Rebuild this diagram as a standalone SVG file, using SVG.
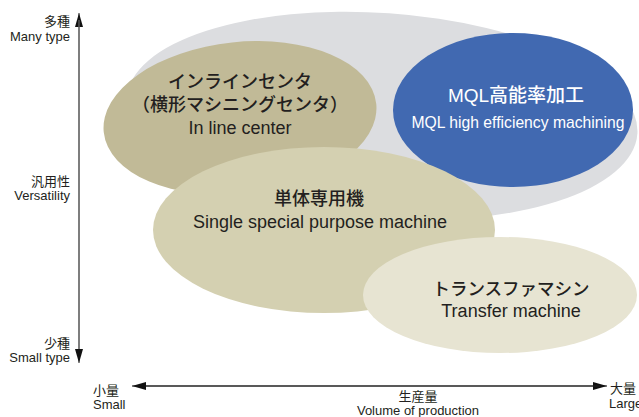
<svg xmlns="http://www.w3.org/2000/svg" width="639" height="417" viewBox="0 0 639 417">
  <defs>
    <style>
      .jp { font-family: "Liberation Sans", "Noto Sans CJK JP", sans-serif; fill: #231f20; }
      .en { font-family: "Liberation Sans", "Noto Sans CJK JP", sans-serif; fill: #231f20; }
      .b { font-weight: 500; }
      .w { fill: #ffffff; }
      .mid { text-anchor: middle; }
      .end { text-anchor: end; }
      .ax { font-size: 13px; }
      .node { font-size: 18px; }
      .vline { stroke: #666666; stroke-width: 1.2; fill: none; }
      .hline { stroke: #222222; stroke-width: 1.2; fill: none; }
    </style>
    <marker id="ah" viewBox="0 0 14 8" refX="14" refY="4" markerWidth="14" markerHeight="8" markerUnits="userSpaceOnUse" orient="auto-start-reverse">
      <path d="M0,0 L14,4 L0,8 Z" fill="#111111"/>
    </marker>
  </defs>
  <rect width="639" height="417" fill="#ffffff"/>

  <g id="versatility-range">
    <ellipse cx="382" cy="116" rx="256" ry="103" transform="rotate(4 382 116)" fill="#dcdde0"/>
  </g>

  <g id="inline-center">
    <ellipse cx="240" cy="118" rx="137" ry="76" transform="rotate(-6 240 118)" fill="#c1ba97"/>
    <text class="jp b node mid" x="240" y="88">インラインセンタ</text>
    <text class="jp b node mid" x="240" y="111">（横形マシニングセンタ）</text>
    <text class="en node mid" x="240" y="134">In line center</text>
  </g>

  <g id="mql">
    <ellipse cx="513" cy="110" rx="120" ry="77" fill="#4169b1"/>
    <text class="jp b w mid" x="516" y="102" font-size="19">MQL高能率加工</text>
    <text class="en w mid" x="518" y="128" font-size="17" textLength="213" lengthAdjust="spacingAndGlyphs">MQL high efficiency machining</text>
  </g>

  <g id="single-purpose">
    <ellipse cx="324" cy="230" rx="171" ry="83" fill="#d4d0b1"/>
    <text class="jp b node mid" x="319" y="205">単体専用機</text>
    <text class="en node mid" x="320" y="228" font-size="18.8">Single special purpose machine</text>
  </g>

  <g id="transfer">
    <ellipse cx="500" cy="295" rx="137" ry="58" fill="#e7e4d2"/>
    <text class="jp b mid" x="511" y="295" font-size="17.5">トランスファマシン</text>
    <text class="en node mid" x="511" y="317">Transfer machine</text>
  </g>

  <g id="axes">
    <line class="vline" x1="79" y1="358" x2="79" y2="13" marker-end="url(#ah)"/>
    <line class="vline" x1="79" y1="20" x2="79" y2="363" marker-end="url(#ah)"/>
    <line class="hline" x1="140" y1="386" x2="607" y2="386" marker-end="url(#ah)"/>
    <line class="hline" x1="600" y1="386" x2="132" y2="386" marker-end="url(#ah)"/>
  </g>

  <g id="axis-labels">
    <text class="jp ax end" x="70" y="26" font-size="14">多種</text>
    <text class="en ax end" x="70" y="41">Many type</text>
    <text class="jp ax end" x="70" y="186" font-size="14">汎用性</text>
    <text class="en ax end" x="70" y="200">Versatility</text>
    <text class="jp ax end" x="70" y="348" font-size="14">少種</text>
    <text class="en ax end" x="70" y="362">Small type</text>
    <text class="jp ax" x="93" y="395" font-size="14">小量</text>
    <text class="en ax" x="93" y="409">Small</text>
    <text class="jp ax mid" x="418" y="401" font-size="14">生産量</text>
    <text class="en ax mid" x="418" y="415">Volume of production</text>
    <text class="jp ax" x="610" y="393" font-size="14">大量</text>
    <text class="en ax" x="609" y="408">Large</text>
  </g>
</svg>
